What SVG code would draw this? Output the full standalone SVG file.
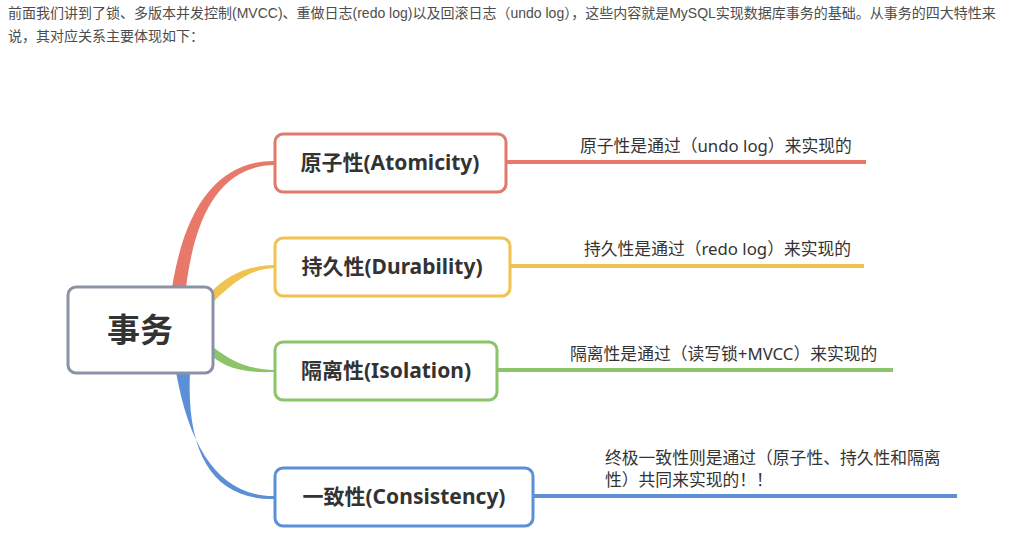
<svg xmlns="http://www.w3.org/2000/svg" width="1022" height="551" viewBox="0 0 1022 551">
<style>
.intro{font-family:"Liberation Sans","Noto Sans CJK SC",sans-serif;font-size:14px;fill:#4d4d4d}
.box{fill:#fff;stroke-width:3}
.nt{font-family:"Noto Sans","Noto Sans CJK SC",sans-serif;font-size:21px;font-weight:bold;fill:#333;text-anchor:middle}
.lbl{font-family:"Noto Sans","Noto Sans CJK SC",sans-serif;font-size:16.8px;fill:#333}
.ln{fill:none;stroke-width:4;stroke-linecap:butt}
</style>
<rect width="1022" height="551" fill="#fff"/>
<g id="intro">
<text class="intro" x="8" y="18">前面我们讲到了锁、多版本并发控制(MVCC)、重做日志(redo log)以及回滚日志（undo log），这些内容就是MySQL实现数据库事务的基础。从事务的四大特性来</text>
<text class="intro" x="8" y="41">说，其对应关系主要体现如下：</text>
</g>
<g id="connectors">
<path d="M172 288 C186 200 222 161 274 161 L274 165 C226 166 196 205 186 288 Z" fill="#e8786a"/>
<path d="M211 292 C228 275 246 266 274 265 L274 268 C250 269 234 282 213 302 Z" fill="#f0c250"/>
<path d="M213 347 C232 362 248 369 274 370 L274 372 C246 373 228 369 213 357 Z" fill="#8cc46a"/>
<path d="M176 372 C190 450 220 496 274 496 L274 499 C214 500 186 455 190 372 Z" fill="#5b8fd6"/>
<path class="ln" d="M506 162 H866" stroke="#e8786a"/>
<path class="ln" d="M510 266 H864" stroke="#f0c250"/>
<path class="ln" d="M497 370 H893" stroke="#8cc46a"/>
<path class="ln" d="M533 496 H957" stroke="#5b8fd6"/>
</g>
<g id="root">
<rect x="68" y="287" width="145" height="86" rx="8" fill="#fff" stroke="#8a93a5" stroke-width="3"/>
<text x="140" y="342" font-family="Noto Sans CJK SC,sans-serif" font-size="33" font-weight="bold" fill="#333" text-anchor="middle">事务</text>
</g>
<g id="atomicity">
<rect class="box" x="275" y="134" width="231" height="58" rx="8" stroke="#e07a6a"/>
<text class="nt" x="390" y="170">原子性(Atomicity)</text>
<text class="lbl" x="580" y="152">原子性是通过（undo log）来实现的</text>
</g>
<g id="durability">
<rect class="box" x="275" y="238" width="235" height="58" rx="8" stroke="#f0c250"/>
<text class="nt" x="392" y="274">持久性(Durability)</text>
<text class="lbl" x="584" y="255">持久性是通过（redo log）来实现的</text>
</g>
<g id="isolation">
<rect class="box" x="275" y="342" width="222" height="58" rx="8" stroke="#8cc46a"/>
<text class="nt" x="386" y="378">隔离性(Isolation)</text>
<text class="lbl" x="570" y="360">隔离性是通过（读写锁+MVCC）来实现的</text>
</g>
<g id="consistency">
<rect class="box" x="275" y="468" width="258" height="58" rx="8" stroke="#5b8fd6"/>
<text class="nt" x="404" y="504">一致性(Consistency)</text>
<text class="lbl" x="605" y="464">终极一致性则是通过（原子性、持久性和隔离</text>
<text class="lbl" x="605" y="486">性）共同来实现的！！</text>
</g>
</svg>
